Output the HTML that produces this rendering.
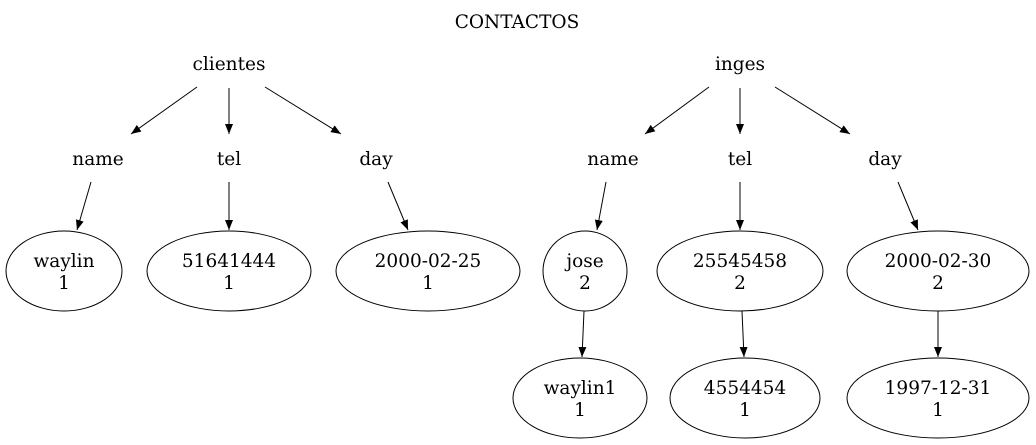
<!DOCTYPE html>
<html><head><meta charset="utf-8"><style>
html,body{margin:0;padding:0;background:#fff}
svg{display:block}
.l{font-family:"DejaVu Serif",serif;font-size:18.5px;text-anchor:middle;fill:#000}
.e{font-family:"DejaVu Serif",serif;font-size:18.5px;text-anchor:middle;fill:#000}
ellipse{fill:none;stroke:#000;stroke-width:1}
line{stroke:#000;stroke-width:1}
</style></head><body>
<svg width="1036" height="445" viewBox="0 0 1036 445" xmlns="http://www.w3.org/2000/svg">
<defs><marker id="a" markerWidth="10" markerHeight="8" refX="10" refY="4" orient="auto" markerUnits="userSpaceOnUse"><path d="M0,0 L10,4 L0,8 z" fill="#000"/></marker></defs>
<text class="l" x="517" y="28">CONTACTOS</text>
<text class="l" x="229" y="70">clientes</text>
<text class="l" x="740" y="70">inges</text>
<text class="l" x="98" y="165">name</text>
<text class="l" x="229" y="165">tel</text>
<text class="l" x="376" y="165">day</text>
<text class="l" x="613" y="165">name</text>
<text class="l" x="740" y="165">tel</text>
<text class="l" x="885" y="165">day</text>
<g marker-end="url(#a)">
<line x1="197" y1="87" x2="131" y2="134"/>
<line x1="229" y1="88" x2="229" y2="134"/>
<line x1="265" y1="87" x2="341" y2="134"/>
<line x1="709" y1="87" x2="645" y2="134"/>
<line x1="740" y1="88" x2="740" y2="134"/>
<line x1="775" y1="87" x2="850" y2="134"/>
<line x1="91" y1="182" x2="77" y2="230"/>
<line x1="229" y1="182" x2="229" y2="230"/>
<line x1="388" y1="182" x2="408" y2="230"/>
<line x1="606" y1="182" x2="597" y2="230"/>
<line x1="740" y1="182" x2="740" y2="230"/>
<line x1="898" y1="182" x2="918" y2="230"/>
<line x1="584" y1="311" x2="582" y2="357"/>
<line x1="742" y1="311" x2="744" y2="357"/>
<line x1="938" y1="311" x2="938" y2="357"/>
</g>
<ellipse cx="64" cy="271" rx="58" ry="40"/>
<text class="e" x="64" y="267">waylin</text><text class="e" x="64" y="289">1</text>
<ellipse cx="229" cy="271" rx="82" ry="40"/>
<text class="e" x="229" y="267">51641444</text><text class="e" x="229" y="289">1</text>
<ellipse cx="428" cy="271" rx="92" ry="40"/>
<text class="e" x="428" y="267">2000-02-25</text><text class="e" x="428" y="289">1</text>
<ellipse cx="585" cy="271" rx="42" ry="40"/>
<text class="e" x="585" y="267">jose</text><text class="e" x="585" y="289">2</text>
<ellipse cx="740" cy="271" rx="83" ry="40"/>
<text class="e" x="740" y="267">25545458</text><text class="e" x="740" y="289">2</text>
<ellipse cx="938" cy="271" rx="91" ry="40"/>
<text class="e" x="938" y="267">2000-02-30</text><text class="e" x="938" y="289">2</text>
<ellipse cx="580" cy="398" rx="67" ry="40"/>
<text class="e" x="580" y="394">waylin1</text><text class="e" x="580" y="416">1</text>
<ellipse cx="745" cy="398" rx="75" ry="40"/>
<text class="e" x="745" y="394">4554454</text><text class="e" x="745" y="416">1</text>
<ellipse cx="938" cy="398" rx="91" ry="40"/>
<text class="e" x="938" y="394">1997-12-31</text><text class="e" x="938" y="416">1</text>
</svg>
</body></html>
